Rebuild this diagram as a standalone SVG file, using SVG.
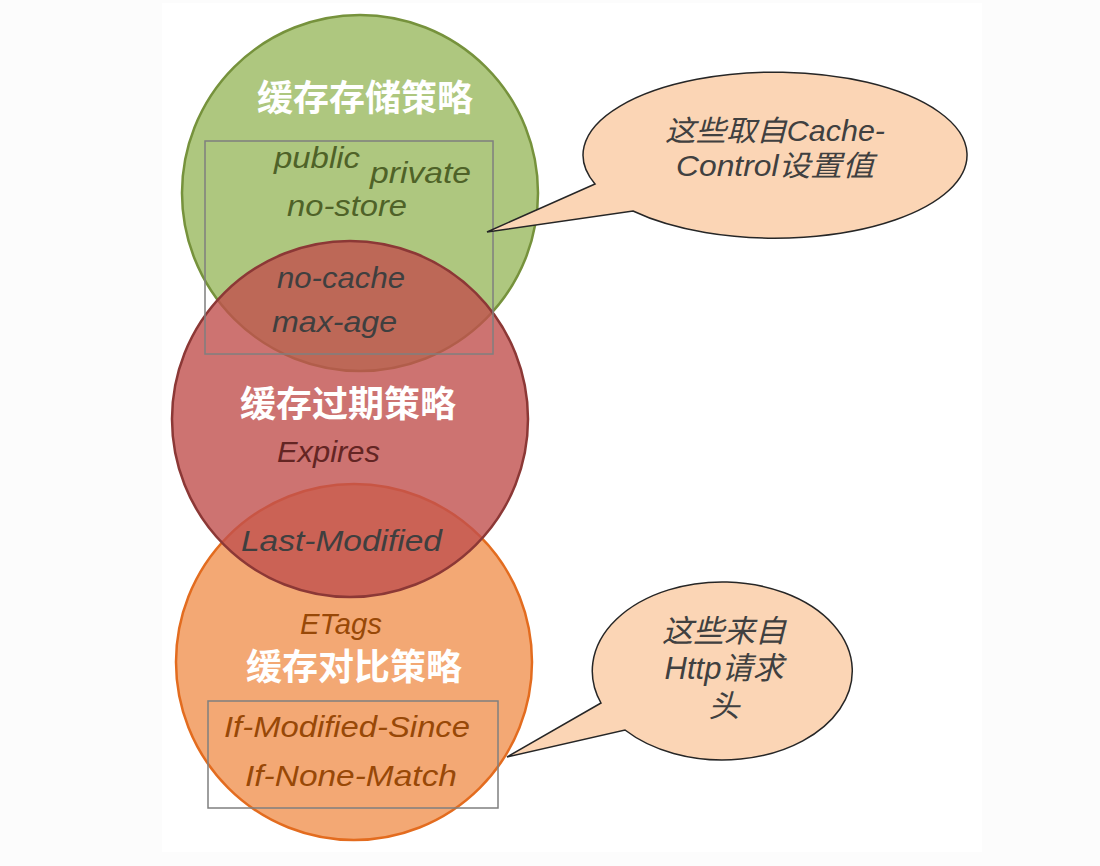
<svg xmlns="http://www.w3.org/2000/svg" width="1100" height="866" viewBox="0 0 1100 866">
<style>
.title{font-family:"Noto Sans CJK SC","Liberation Sans",sans-serif;font-weight:bold;font-size:36px;fill:#ffffff;text-anchor:middle}
.it{font-family:"Liberation Sans","Noto Sans CJK SC",sans-serif;font-style:italic;font-size:30px}
.box{fill:none;stroke:#7f7f7f;stroke-width:1.5}
.callout{fill:#fbd5b5;stroke:#262626;stroke-width:1.5}
.ct{font-family:"Liberation Sans","Noto Sans CJK SC",sans-serif;font-style:italic;font-size:29px;fill:#404040;text-anchor:middle}
.ct2{font-family:"Liberation Sans","Noto Sans CJK SC",sans-serif;font-style:italic;font-size:31px;fill:#404040;text-anchor:middle}
</style>
<rect x="0" y="0" width="1100" height="866" fill="#fcfcfc"/>
<rect x="162" y="3" width="820" height="849" fill="#ffffff"/>
<g id="green">
<circle cx="360" cy="193" r="178" fill="#aec77f" stroke="#76923c" stroke-width="2.5"/>
</g>
<g id="orange">
<circle cx="354" cy="662" r="178" fill="#f3a874" stroke="#e36c1f" stroke-width="2.5"/>
</g>
<g id="red">
<circle cx="350" cy="419" r="178" fill="#c0504d" fill-opacity="0.8" stroke="#8c3836" stroke-width="2.5"/>
</g>
<g id="box1"><rect class="box" x="205" y="141" width="288" height="213"/></g>
<g id="box2"><rect class="box" x="208" y="701" width="290" height="107"/></g>
<g id="connectors">
<path id="callout1" class="callout" d="M 595 184 L 487 232 L 633 211 A 192 83 0 1 0 595 184 Z"/>
<path id="callout2" class="callout" d="M 601 703 L 507 757 L 625 730 A 130 89 0 1 0 601 703 Z"/>
</g>
<g id="labels-green">
<text class="title" x="365" y="111">缓存存储策略</text>
<text class="it" x="274" y="168" fill="#4f6228" textLength="86" lengthAdjust="spacingAndGlyphs">public</text>
<text class="it" x="370" y="183" fill="#4f6228" textLength="101" lengthAdjust="spacingAndGlyphs">private</text>
<text class="it" x="287" y="216" fill="#4f6228" textLength="120" lengthAdjust="spacingAndGlyphs">no-store</text>
<text class="it" x="277" y="288" fill="#3f3f3f" textLength="128" lengthAdjust="spacingAndGlyphs">no-cache</text>
<text class="it" x="272" y="332" fill="#3f3f3f" textLength="125" lengthAdjust="spacingAndGlyphs">max-age</text>
</g>
<g id="labels-red">
<text class="title" x="348" y="417">缓存过期策略</text>
<text class="it" x="277" y="462" fill="#632523" textLength="103" lengthAdjust="spacingAndGlyphs">Expires</text>
<text class="it" x="241" y="551" fill="#3f3f3f" textLength="201" lengthAdjust="spacingAndGlyphs">Last-Modified</text>
</g>
<g id="labels-orange">
<text class="it" x="300" y="634" fill="#984807" textLength="82" lengthAdjust="spacingAndGlyphs">ETags</text>
<text class="title" x="354" y="680">缓存对比策略</text>
<text class="it" x="224" y="737" fill="#984807" textLength="246" lengthAdjust="spacingAndGlyphs">If-Modified-Since</text>
<text class="it" x="245" y="786" fill="#984807" textLength="212" lengthAdjust="spacingAndGlyphs">If-None-Match</text>
</g>
<g id="callout1-text">
<text class="ct" x="775" y="141" textLength="220" lengthAdjust="spacingAndGlyphs">这些取自Cache-</text>
<text class="ct" x="775" y="176" textLength="198" lengthAdjust="spacingAndGlyphs">Control设置值</text>
</g>
<g id="callout2-text">
<text class="ct2" x="724" y="642">这些来自</text>
<text class="ct2" x="724" y="679">Http请求</text>
<text class="ct2" x="724" y="717">头</text>
</g>
</svg>
